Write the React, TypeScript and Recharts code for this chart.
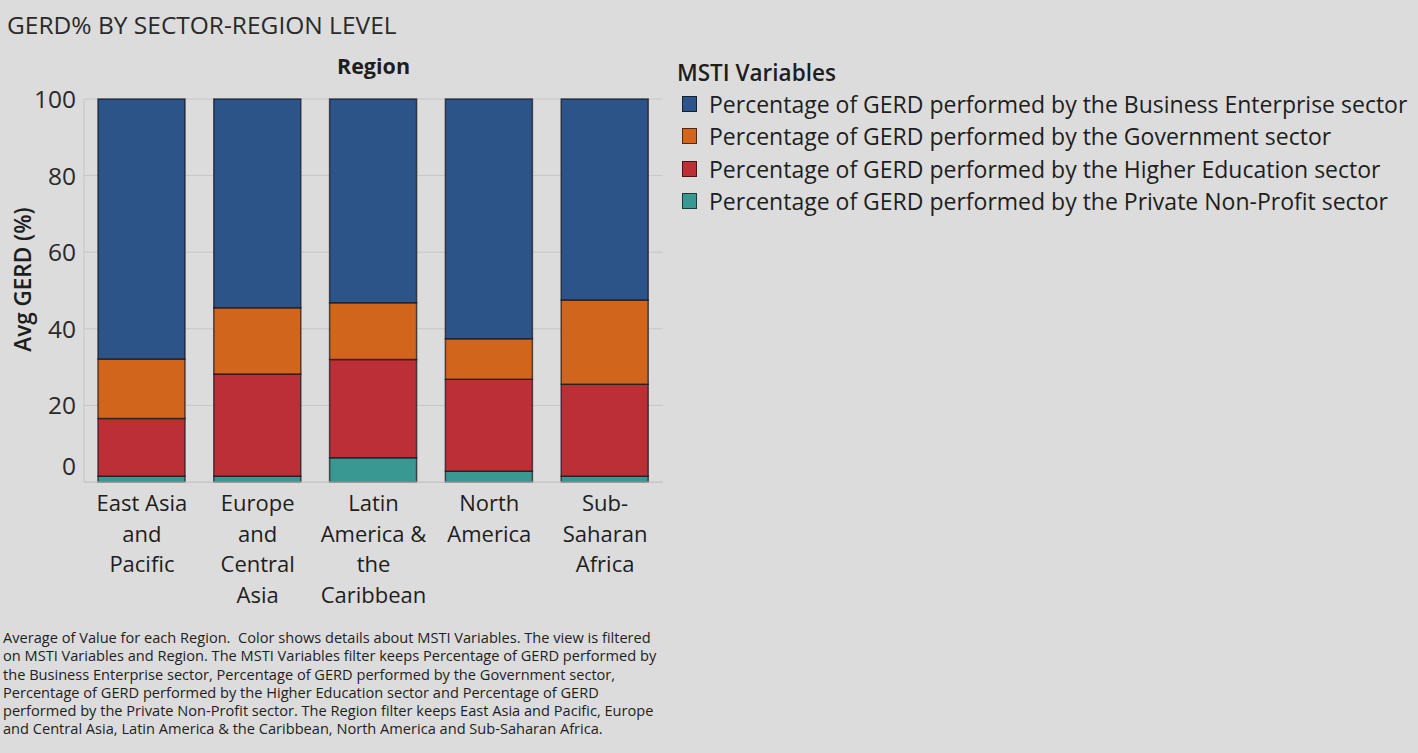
import React from 'react';
import { BarChart, Bar, XAxis, YAxis, CartesianGrid, Legend } from 'recharts';

// Regions on the x axis, with the line breaks used in the tick labels
const regions = ['East Asia and Pacific', 'Europe and Central Asia', 'Latin America & the Caribbean', 'North America', 'Sub-Saharan Africa'];
const regionLines = [
    ['East Asia', 'and', 'Pacific'],
    ['Europe', 'and', 'Central', 'Asia'],
    ['Latin', 'America &', 'the', 'Caribbean'],
    ['North', 'America'],
    ['Sub-', 'Saharan', 'Africa'],
];

// Average GERD share (%) per sector, one value per region
const privateNonProfit = [1.5, 1.5, 6.3, 2.8, 1.5];
const higherEducation = [15.1, 26.7, 25.7, 24.0, 24.0];
const government = [15.5, 17.3, 14.8, 10.6, 22.0];
const businessEnterprise = [67.9, 54.5, 53.2, 62.6, 52.5];

const yTicks = [0, 20, 40, 60, 80, 100];

const SERIES = [
    { key: 'business', name: 'Percentage of GERD performed by the Business Enterprise sector', color: '#2c5489' },
    { key: 'government', name: 'Percentage of GERD performed by the Government sector', color: '#d2651c' },
    { key: 'higher', name: 'Percentage of GERD performed by the Higher Education sector', color: '#bd2f36' },
    { key: 'private', name: 'Percentage of GERD performed by the Private Non-Profit sector', color: '#3a9893' },
];

const FONT = '"Open Sans", "Noto Sans", sans-serif';
const BAR_STROKE = 'rgba(20,20,30,0.7)';

const chartData = regions.map((region, i) => ({
    region,
    private: privateNonProfit[i],
    higher: higherEducation[i],
    government: government[i],
    business: businessEnterprise[i],
}));

const RegionTick = (props: any) => {
    const { x, y, payload } = props;
    const lines = regionLines[payload.index] || [payload.value];
    return (
        <text x={x} y={y} textAnchor="middle" fill="#1e1e1e" fontSize={22} fontFamily={FONT}>
            {lines.map((line, i) => (
                <tspan key={i} x={x} dy={i === 0 ? 21 : 30.5}>{line}</tspan>
            ))}
        </text>
    );
};

const ValueTick = (props: any) => {
    const { x, y, payload } = props;
    // Tableau nudges the bottom label up
    const shift = payload.value === 0 ? -16 : 0;
    return (
        <text x={x} y={y + shift} dy={9} textAnchor="end" fill="#2a2a2a" fontSize={24.5} fontFamily={FONT}>
            {payload.value}
        </text>
    );
};

const LegendContent = () => (
    <div style={{ fontFamily: FONT, color: '#1e1e1e' }}>
        <div style={{ fontSize: 22.5, fontWeight: 600, height: 30, lineHeight: '30px' }}>MSTI Variables</div>
        {SERIES.map((s) => (
            <div key={s.key} style={{ display: 'flex', alignItems: 'center', height: 32.3 }}>
                <span style={{ width: 13, height: 14, background: s.color, border: '1px solid rgba(0,0,0,0.6)', marginLeft: 5, marginRight: 12 }} />
                <span style={{ fontSize: 23, whiteSpace: 'nowrap' }}>{s.name}</span>
            </div>
        ))}
    </div>
);

export default function App() {
    return (
        <div style={{ position: 'absolute', left: 0, top: 0, width: 1418, height: 753, background: '#dcdcdc', overflow: 'hidden' }}>
            <div style={{ position: 'absolute', left: 7, top: 8, fontFamily: FONT, fontSize: 24.5, color: '#2a2a2a', whiteSpace: 'nowrap' }}>
                GERD% BY SECTOR-REGION LEVEL
            </div>
            <div style={{ position: 'absolute', left: 84, width: 579, top: 51, textAlign: 'center', fontFamily: FONT, fontSize: 21.5, fontWeight: 700, color: '#1e1e1e' }}>
                Region
            </div>
            <div style={{ position: 'absolute', left: 0, top: 0 }}>
                <BarChart width={1418} height={620} data={chartData} margin={{ top: 99, right: 755, left: 0, bottom: 8 }} barSize={87}>
                    <CartesianGrid vertical={false} stroke="#c6c6c6" />
                    <XAxis
                        dataKey="region"
                        height={130}
                        tick={<RegionTick />}
                        tickLine={false}
                        axisLine={{ stroke: '#c6c6c6' }}
                        interval={0}
                    />
                    <YAxis
                        width={84}
                        domain={[0, 100]}
                        ticks={yTicks}
                        tick={<ValueTick />}
                        tickLine={false}
                        axisLine={{ stroke: '#c6c6c6' }}
                        label={{
                            value: 'Avg GERD (%)',
                            angle: -90,
                            position: 'insideLeft',
                            offset: 23,
                            dy: -11,
                            style: { textAnchor: 'middle', fontFamily: FONT, fontSize: 22.5, fontWeight: 600, fill: '#1e1e1e' },
                        }}
                    />
                    <Legend
                        layout="vertical"
                        verticalAlign="middle"
                        align="center"
                        content={<LegendContent />}
                        wrapperStyle={{ position: 'absolute', left: 677, top: 58, width: 740 }}
                    />
                    <Bar dataKey="private" stackId="a" fill="#3a9893" stroke={BAR_STROKE} strokeWidth={1.5} isAnimationActive={false} />
                    <Bar dataKey="higher" stackId="a" fill="#bd2f36" stroke={BAR_STROKE} strokeWidth={1.5} isAnimationActive={false} />
                    <Bar dataKey="government" stackId="a" fill="#d2651c" stroke={BAR_STROKE} strokeWidth={1.5} isAnimationActive={false} />
                    <Bar dataKey="business" stackId="a" fill="#2c5489" stroke={BAR_STROKE} strokeWidth={1.5} isAnimationActive={false} />
                </BarChart>
            </div>
            <div style={{ position: 'absolute', left: 3, top: 628, fontFamily: FONT, fontSize: 14.6, lineHeight: '18.3px', color: '#1e1e1e', whiteSpace: 'nowrap' }}>
                Average of Value for each Region.&nbsp; Color shows details about MSTI Variables. The view is filtered<br />
                on MSTI Variables and Region. The MSTI Variables filter keeps Percentage of GERD performed by<br />
                the Business Enterprise sector, Percentage of GERD performed by the Government sector,<br />
                Percentage of GERD performed by the Higher Education sector and Percentage of GERD<br />
                performed by the Private Non-Profit sector. The Region filter keeps East Asia and Pacific, Europe<br />
                and Central Asia, Latin America &amp; the Caribbean, North America and Sub-Saharan Africa.
            </div>
        </div>
    );
}
